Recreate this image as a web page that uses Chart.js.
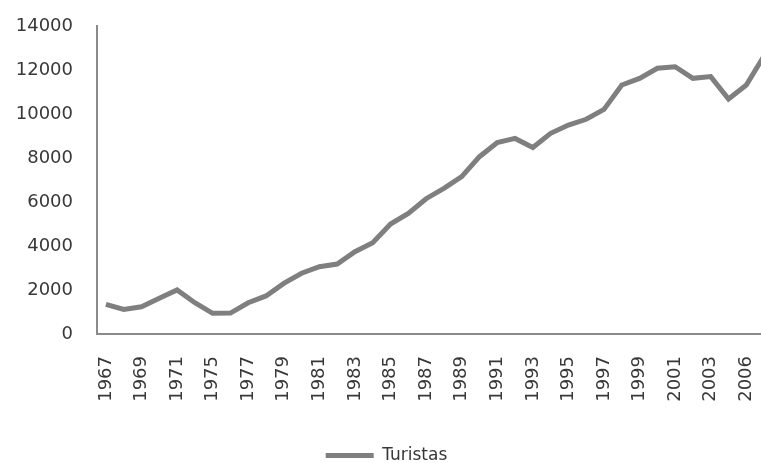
<!DOCTYPE html>
<html>
<head>
<meta charset="utf-8">
<script src="https://cdn.jsdelivr.net/npm/chart.js@4/dist/chart.umd.min.js"></script>
<style>
    html, body { margin: 0; padding: 0; overflow: hidden; background: #fff; }
    #wrap { width: 761px; height: 463px; overflow: hidden; position: relative; }
    #chart-turistas { display: block; position: absolute; left: 0; top: 0; }
</style>
</head>
<body>
<div id="wrap">
    <canvas id="chart-turistas" width="790" height="476"></canvas>
</div>
<script>
// anos (faltam alguns anos na série)
const anos = [
    "1967", "1968", "1969", "1970", "1971", "1973", "1975", "1976", "1977", "1978",
    "1979", "1980", "1981", "1982", "1983", "1984", "1985", "1986", "1987", "1988",
    "1989", "1990", "1991", "1992", "1993", "1994", "1995", "1996", "1997", "1998",
    "1999", "2000", "2001", "2002", "2003", "2005", "2006", "2007",
];
const turistas = [
    1350, 1120, 1240, 1620, 2000, 1420, 940, 950, 1420, 1730,
    2300, 2760, 3060, 3180, 3740, 4150, 5000, 5480, 6150, 6620,
    7150, 8060, 8700, 8890, 8480, 9120, 9500, 9760, 10210, 11320,
    11620, 12080, 12150, 11620, 11700, 10680, 11320, 12650,
];
const yTicks = [0, 2000, 4000, 6000, 8000, 10000, 12000, 14000];

const cinza = "#7f7f7f";
const eixo = "#8a8a8a";
const texto = "#383838";
const fonte = "'DejaVu Sans', sans-serif";

let chartData = {
    labels: anos,
    datasets: [
        {
            label: "Turistas",
            data: turistas,
            borderColor: cinza,
            backgroundColor: cinza,
            borderWidth: 5,
            pointRadius: 0,
            pointStyle: "line",
            tension: 0,
        },
    ],
};

const config = {
    type: "line",
    data: chartData,
    options: {
        responsive: false,
        animation: false,
        layout: {
            padding: { top: 26, left: 0, right: 17, bottom: 2 },
        },
        scales: {
            x: {
                type: "category",
                offset: true,
                grid: { display: false, drawTicks: false },
                border: { display: true, color: eixo, width: 2 },
                ticks: {
                    autoSkip: false,
                    minRotation: 90,
                    maxRotation: 90,
                    padding: 22,
                    color: texto,
                    font: { family: fonte, size: 18 },
                    callback: function (value, index) {
                        return index % 2 === 0 ? this.getLabelForValue(value) : "";
                    },
                },
                afterFit: function (scale) {
                    scale.height = 111;
                    scale.paddingLeft = 0;
                    scale.paddingRight = 0;
                },
            },
            y: {
                min: yTicks[0],
                max: yTicks[yTicks.length - 1],
                grid: { display: false, drawTicks: false },
                border: { display: true, color: eixo, width: 2 },
                ticks: {
                    stepSize: 2000,
                    padding: 24,
                    color: texto,
                    font: { family: fonte, size: 18 },
                    callback: (value) => String(value),
                },
                afterFit: function (scale) {
                    scale.width = 97;
                    scale.paddingTop = 0;
                    scale.paddingBottom = 0;
                },
            },
        },
        plugins: {
            legend: {
                position: "bottom",
                labels: {
                    usePointStyle: true,
                    pointStyle: "line",
                    pointStyleWidth: 48,
                    padding: 2,
                    color: texto,
                    font: { family: fonte, size: 17 },
                },
            },
            tooltip: { enabled: false },
        },
    },
};

const myChart = new Chart(document.getElementById("chart-turistas"), config);
</script>
</body>
</html>
